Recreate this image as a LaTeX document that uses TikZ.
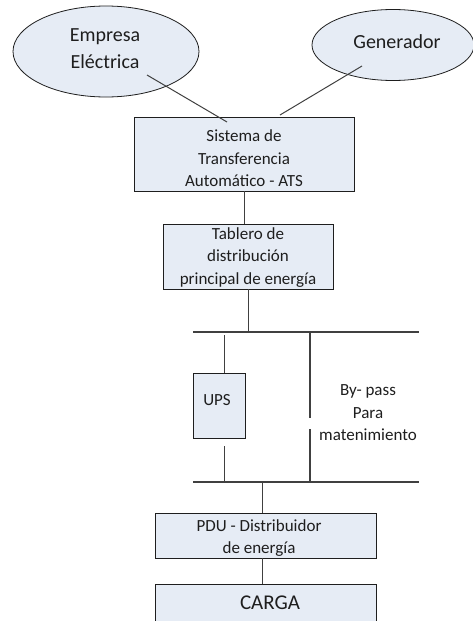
\documentclass[tikz,border=0pt]{standalone}
\usepackage{fontspec}
\setmainfont{Carlito}
\usetikzlibrary{shapes.geometric}
\definecolor{boxfill}{RGB}{230,236,245}
\definecolor{wire}{RGB}{64,64,64}
\definecolor{ink}{RGB}{30,30,30}
\begin{document}
\begin{tikzpicture}[x=1pt,y=-1pt,
  box/.style={draw=ink, fill=boxfill, line width=0.9pt, rectangle, inner sep=0pt},
  source/.style={draw=ink, fill=boxfill, line width=0.8pt, ellipse, inner sep=0pt},
  txt/.style={align=center, inner sep=0pt, text=ink, font=\fontsize{17}{22.5}\selectfont},
  bigtxt/.style={align=center, inner sep=0pt, text=ink, font=\fontsize{20}{27}\selectfont},
  wireline/.style={draw=wire, line width=1pt},
  busline/.style={draw=wire, line width=1.4pt}]
\useasboundingbox (0,0) rectangle (473,621);

% power sources
\node[source, minimum width=186, minimum height=91] (emp) at (106,51.5) {};
\node[bigtxt] (empT) at (105,48.5) {Empresa\\Eléctrica};
\node[source, minimum width=162, minimum height=71] (gen) at (393,45) {};
\node[bigtxt] (genT) at (397,42) {Generador};

% transfer switch and main board
\node[box, minimum width=220, minimum height=74] (ats) at (244,154) {};
\node[txt] (atsT) at (244,158.5) {Sistema de\\Transferencia\\Automático - ATS};
\node[box, minimum width=170, minimum height=65] (tab) at (248,256.5) {};
\node[txt] (tabT) at (248,257.5) {Tablero de\\distribución\\principal de energía};

% UPS and bypass branch
\node[box, minimum width=52, minimum height=65] (ups) at (219,405.5) {};
\node[txt] (upsT) at (217,400) {UPS};
\node[txt] (bypT) at (368,413) {By- pass\\Para\\matenimiento};

% distribution and load
\node[box, minimum width=221, minimum height=45] (pdu) at (265.5,535.5) {};
\node[txt] (pduT) at (259,538) {PDU - Distribuidor\\de energía};
\node[box, minimum width=221, minimum height=60] (carga) at (265.5,614) {};
\node[txt, font=\fontsize{21}{25}\selectfont] (cargaT) at (270,603) {CARGA};

% wiring points
\coordinate (empOut) at (147,75);
\coordinate (atsInA) at (227,122);
\coordinate (genOut) at (362,66);
\coordinate (atsInB) at (280,115);
\coordinate (b1L) at (193,332);
\coordinate (b1R) at (419,332);
\coordinate (b2L) at (193,482);
\coordinate (b2R) at (419,482);
\coordinate (upsIn) at (224,335);
\coordinate (upsTop) at (224,373);
\coordinate (upsBot) at (224,446);
\coordinate (upsOut) at (224,482);
\coordinate (bypA) at (310,332);
\coordinate (bypB) at (310,418);
\coordinate (bypC) at (310,429);
\coordinate (bypD) at (310,482);
\coordinate (pduIn) at (262,482);

% connections
\draw[wireline] (empOut) -- (atsInA);
\draw[wireline] (genOut) -- (atsInB);
\draw[wireline] (ats.south) -- (ats.south |- tab.north);
\draw[wireline] (tab.south) -- (tab.south |- b1L);
\draw[busline] (b1L) -- (b1R);
\draw[wireline] (upsIn) -- (upsTop);
\draw[wireline] (upsBot) -- (upsOut);
\draw[busline] (bypA) -- (bypB);
\draw[busline] (bypC) -- (bypD);
\draw[busline] (b2L) -- (b2R);
\draw[wireline] (pduIn) -- (pduIn |- pdu.north);
\draw[wireline] (pduIn |- pdu.south) -- (pduIn |- carga.north);
\end{tikzpicture}
\end{document}
